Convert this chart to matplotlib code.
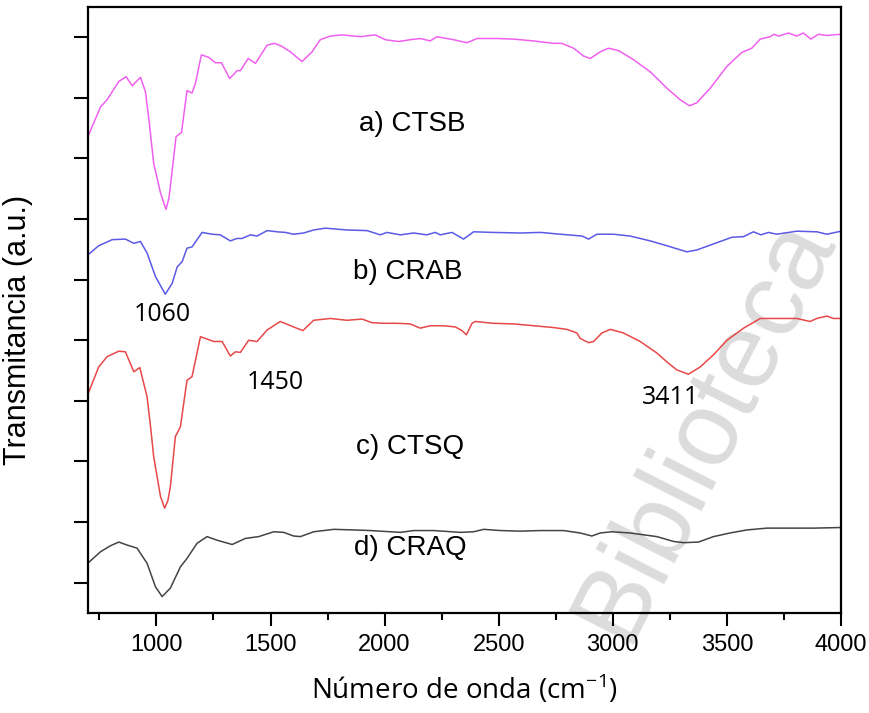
import matplotlib
matplotlib.use("Agg")
import matplotlib.pyplot as plt
import numpy as np

# FTIR spectra: (wavenumber cm-1, transmittance a.u.)
ctsb = [(703, 78.9), (755, 83.5), (784, 84.7), (835, 87.7), (867, 88.5), (894, 87.0),
        (930, 88.4), (952, 86.0), (970, 80.5), (988, 74.2), (1018, 69.3), (1042, 66.6),
        (1055, 68.5), (1066, 72.0), (1086, 78.6), (1110, 79.3), (1134, 86.2), (1156, 85.8),
        (1171, 87.4), (1197, 92.1), (1229, 91.7), (1258, 90.8), (1285, 90.8), (1321, 88.2),
        (1354, 89.5), (1368, 89.5), (1402, 91.5), (1434, 90.7), (1485, 93.7), (1518, 94.0),
        (1550, 93.5), (1587, 92.6), (1638, 91.0), (1682, 92.6), (1718, 94.6), (1762, 95.2),
        (1813, 95.4), (1894, 95.1), (1959, 95.4), (2003, 94.6), (2061, 94.3), (2112, 94.6),
        (2156, 94.8), (2200, 94.4), (2229, 95.1), (2302, 94.6), (2361, 94.1), (2405, 94.8),
        (2492, 94.8), (2565, 94.7), (2653, 94.4), (2740, 94.0), (2777, 94.0), (2828, 93.2),
        (2872, 91.9), (2901, 91.5), (2945, 92.6), (2981, 93.2), (3025, 92.8), (3091, 91.3),
        (3164, 89.3), (3237, 86.6), (3295, 84.7), (3336, 83.7), (3368, 84.2), (3427, 86.6),
        (3500, 90.2), (3565, 92.5), (3609, 93.2), (3646, 94.7), (3689, 95.1), (3707, 95.5),
        (3726, 95.2), (3770, 95.7), (3806, 95.2), (3835, 95.7), (3868, 94.7), (3901, 95.5),
        (3938, 95.3), (4000, 95.5)]

crab = [(703, 59.2), (747, 60.6), (806, 61.6), (864, 61.7), (901, 61.0), (930, 61.3),
        (959, 59.4), (996, 55.5), (1039, 52.6), (1069, 54.4), (1091, 57.1), (1113, 58.0),
        (1134, 60.2), (1156, 60.4), (1200, 62.8), (1244, 62.5), (1280, 62.4), (1324, 61.4),
        (1353, 61.8), (1375, 61.8), (1412, 62.4), (1441, 62.2), (1485, 63.1), (1529, 62.9),
        (1565, 62.8), (1601, 62.5), (1645, 62.7), (1689, 63.2), (1740, 63.5), (1835, 63.2),
        (1923, 63.1), (1981, 62.4), (2010, 62.8), (2069, 62.4), (2127, 62.7), (2185, 62.4),
        (2222, 62.8), (2244, 62.4), (2295, 62.8), (2346, 61.7), (2390, 62.9), (2477, 62.8),
        (2594, 62.7), (2682, 62.8), (2770, 62.5), (2865, 62.2), (2894, 61.7), (2930, 62.5),
        (3003, 62.5), (3076, 62.2), (3164, 61.4), (3237, 60.6), (3324, 59.6), (3368, 59.9),
        (3441, 60.9), (3522, 62.0), (3573, 62.1), (3616, 62.9), (3649, 62.4), (3682, 62.8),
        (3718, 62.5), (3806, 63.0), (3894, 62.9), (3938, 62.5), (4000, 63.0)]

ctsq = [(702, 36.3), (747, 40.6), (784, 42.3), (835, 43.2), (864, 43.1), (901, 39.8),
        (927, 40.5), (959, 35.7), (975, 30.5), (988, 25.8), (1018, 19.2), (1036, 17.3),
        (1050, 18.5), (1061, 20.8), (1083, 29.1), (1105, 30.7), (1134, 38.4), (1156, 39.0),
        (1193, 45.6), (1251, 44.8), (1288, 44.8), (1324, 42.4), (1346, 43.1), (1368, 43.0),
        (1404, 45.0), (1441, 44.8), (1485, 46.7), (1543, 48.1), (1601, 47.2), (1642, 46.6),
        (1689, 48.3), (1762, 48.6), (1835, 48.3), (1901, 48.5), (1945, 47.9), (1996, 47.8),
        (2054, 47.8), (2112, 47.7), (2156, 47.0), (2200, 47.4), (2258, 47.4), (2310, 47.2),
        (2339, 46.6), (2358, 45.9), (2383, 47.8), (2397, 48.1), (2477, 47.8), (2565, 47.7),
        (2653, 47.4), (2740, 47.1), (2799, 46.8), (2843, 46.2), (2857, 45.3), (2894, 44.6),
        (2916, 44.8), (2952, 46.2), (2989, 46.8), (3047, 46.2), (3120, 44.8), (3193, 42.9),
        (3244, 41.2), (3281, 40.1), (3331, 39.4), (3383, 40.6), (3441, 42.6), (3500, 45.0),
        (3573, 47.0), (3646, 48.6), (3733, 48.6), (3806, 48.6), (3864, 48.1), (3894, 48.6),
        (3938, 49.0), (3967, 48.6), (4000, 48.6)]

craq = [(702, 8.3), (755, 10.1), (799, 11.1), (835, 11.7), (872, 11.2), (915, 10.7),
        (959, 8.2), (996, 4.3), (1025, 2.7), (1061, 4.1), (1105, 7.6), (1134, 9.0),
        (1178, 11.5), (1222, 12.6), (1266, 12.0), (1332, 11.3), (1390, 12.3), (1448, 12.6),
        (1514, 13.4), (1558, 13.3), (1601, 12.7), (1631, 12.6), (1689, 13.4), (1777, 13.8),
        (1864, 13.7), (1937, 13.6), (2069, 13.3), (2127, 13.6), (2215, 13.6), (2332, 13.3),
        (2390, 13.4), (2434, 13.8), (2507, 13.6), (2594, 13.5), (2682, 13.6), (2784, 13.6),
        (2857, 13.2), (2908, 12.7), (2945, 13.2), (2996, 13.4), (3076, 13.2), (3193, 12.6),
        (3266, 11.8), (3310, 11.6), (3375, 11.7), (3441, 12.6), (3514, 13.2), (3587, 13.7),
        (3675, 14.0), (3762, 14.0), (3879, 14.0), (4000, 14.1)]

labels = ["a) CTSB", "b) CRAB", "c) CTSQ", "d) CRAQ"]
label_pos = [(2120, 80.7), (2100, 56.3), (2113, 27.4), (2113, 10.7)]
colors = ["#f060f0", "#5a5ae6", "#e84848", "#444444"]

peaks = ["1060", "1450", "3411"]
peak_pos = [(1026, 49.3), (1521, 38.1), (3251, 35.6)]

fig = plt.figure(figsize=(8.7, 7.13), dpi=100)
ax = fig.add_axes([0.1011, 0.1403, 0.8656, 0.8499])

for spec, col in zip([ctsb, crab, ctsq, craq], colors):
    spec = np.array(spec)
    ax.plot(spec[:, 0], spec[:, 1], color=col, lw=1.1)

for txt, (x, y) in zip(labels, label_pos):
    ax.text(x, y, txt, ha="center", va="center", fontsize=20,
            family="Liberation Sans")
for txt, (x, y) in zip(peaks, peak_pos):
    ax.text(x, y, txt, ha="center", va="center", fontsize=18,
            family="Open Sans")

# watermark of the source repository (kept inside the canvas)
fig.text(0.81, 0.40, "Biblioteca", rotation=63, fontsize=76,
         color="#dcdcdc", family="Liberation Sans",
         ha="center", va="center", zorder=0.5)
ax.set_zorder(1)
ax.patch.set_alpha(0)

ax.set_xlim(700, 4000)
ax.set_ylim(0, 100)
ax.set_xticks(np.arange(1000, 4001, 500))
ax.set_xticks(np.arange(750, 4000, 500), minor=True)
ax.set_yticks(np.arange(5, 100, 10))
ax.set_yticklabels([])
ax.tick_params(axis="x", direction="out", length=9, width=1.5,
               labelsize=17, pad=6)
ax.tick_params(axis="x", which="minor", direction="out", length=5, width=1.5)
ax.tick_params(axis="y", direction="out", length=10, width=1.5)
for lab in ax.get_xticklabels():
    lab.set_family("Liberation Sans")
for sp in ax.spines.values():
    sp.set_linewidth(1.6)

ax.set_xlabel("Número de onda (cm$^{\\mathregular{-1}}$)", fontsize=20,
              family="Open Sans", labelpad=12)
ax.set_ylabel("Transmitancia (a.u.)", fontsize=22, family="Liberation Sans")
ax.yaxis.set_label_coords(-0.073, 0.467)

fig.savefig("out.png", dpi=100)
